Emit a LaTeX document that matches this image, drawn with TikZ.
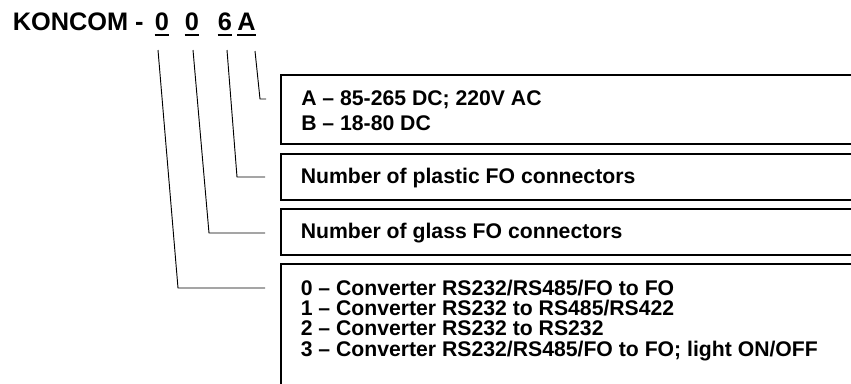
\documentclass[tikz,border=0pt]{standalone}
\usepackage{fontspec}
\setmainfont{Liberation Sans}
\usetikzlibrary{calc}
\begin{document}
\begin{tikzpicture}[x=0.75pt,y=-0.75pt,
  title/.style={font=\fontsize{19}{22}\selectfont\bfseries, inner sep=0pt, anchor=base west},
  txt/.style={font=\fontsize{15.9}{19}\selectfont\bfseries, inner sep=0pt, anchor=base west},
  leader/.style={line width=0.7pt},
  frame/.style={line width=0.9pt},
  uline/.style={line width=1.9pt}]
\useasboundingbox (0,0) rectangle (851,383);
\clip (0,0) rectangle (851,383);
% title
\node[title] (k) at (12.5,30.5) {KONCOM -};
\node[title] (d1) at (154.5,30.5) {0};
\node[title] (d2) at (184.5,30.5) {0};
\node[title] (d3) at (217.5,30.5) {6};
\node[title] (d4) at (237,30.5) {A};
\foreach \n in {d1,d2,d3,d4}
  \draw[uline] ($(\n.base west)+(0,4.3)$) -- ($(\n.base east)+(0,4.3)$);
% leaders
\coordinate (s1) at (158,50);  \coordinate (b1) at (178,288); \coordinate (e1) at (265,288);
\coordinate (s2) at (193,50);  \coordinate (b2) at (209,233); \coordinate (e2) at (265,233);
\coordinate (s3) at (227,50);  \coordinate (b3) at (237,177); \coordinate (e3) at (265,177);
\coordinate (s4) at (255,51);  \coordinate (b4) at (260,99);  \coordinate (e4) at (266,99);
\draw[leader] (s1) -- (b1) -- (e1);
\draw[leader] (s2) -- (b2) -- (e2);
\draw[leader] (s3) -- (b3) -- (e3);
\draw[leader] (s4) -- (b4) -- (e4);
% boxes (open to the right)
\draw[frame] (870,75) -- (281,75) -- (281,144) -- (870,144);
\draw[frame] (870,154) -- (281,154) -- (281,200) -- (870,200);
\draw[frame] (870,209) -- (281,209) -- (281,255) -- (870,255);
\draw[frame] (870,264) -- (281,264) -- (281,400);
% texts
\node[txt] (a1) at (301,105) {A – 85-265 DC; 220V AC};
\node[txt] (a2) at (301,130) {B – 18-80 DC};
\node[txt] (p) at (300.5,183) {Number of plastic FO connectors};
\node[txt] (g) at (300.5,238) {Number of glass FO connectors};
\node[txt] (c0) at (300.5,295) {0 – Converter RS232/RS485/FO to FO};
\node[txt] (c1) at (300.5,315.5) {1 – Converter RS232 to RS485/RS422};
\node[txt] (c2) at (300.5,335.5) {2 – Converter RS232 to RS232};
\node[txt] (c3) at (300.5,356) {3 – Converter RS232/RS485/FO to FO; light ON/OFF};
\end{tikzpicture}
\end{document}
